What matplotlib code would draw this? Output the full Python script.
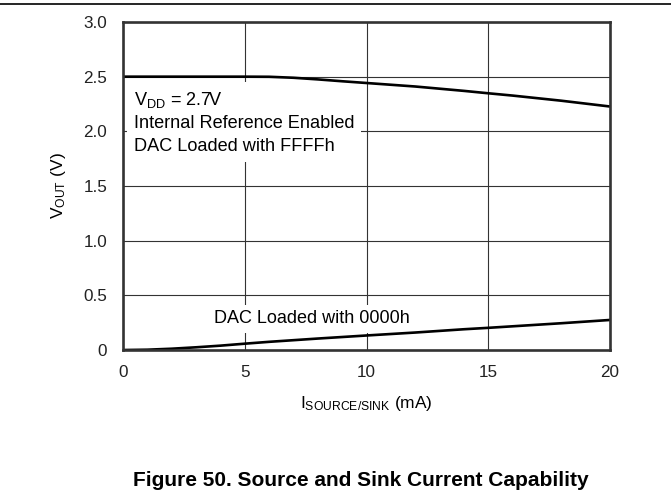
import numpy as np
import matplotlib
matplotlib.use("Agg")
import matplotlib.pyplot as plt
from matplotlib.lines import Line2D

plt.rcParams['font.family'] = ['Liberation Sans', 'DejaVu Sans']
plt.rcParams['mathtext.fontset'] = 'custom'
plt.rcParams['mathtext.rm'] = 'Liberation Sans'
plt.rcParams['mathtext.default'] = 'regular'

# current (mA) and output voltage (V)
i_ma = [0, 1, 2, 3, 4, 5, 6, 7, 8, 9, 10, 12, 14, 15, 16, 18, 20]
v_ffff = [2.50, 2.50, 2.50, 2.50, 2.50, 2.50, 2.499, 2.49, 2.475, 2.458, 2.442,
          2.41, 2.37, 2.348, 2.327, 2.28, 2.227]
v_0000 = [0.0, 0.003, 0.012, 0.025, 0.04, 0.058, 0.075, 0.09, 0.105, 0.119, 0.133,
          0.16, 0.19, 0.203, 0.217, 0.245, 0.275]

x_ticks = [0, 5, 10, 15, 20]
y_ticks = [0, 0.5, 1.0, 1.5, 2.0, 2.5, 3.0]
y_ticklabels = ['0', '0.5', '1.0', '1.5', '2.0', '2.5', '3.0']

fig = plt.figure(figsize=(6.71, 4.93), dpi=100)
ax = fig.add_axes([0.1833, 0.290, 0.7258, 0.6654])

ax.plot(i_ma, v_ffff, color='black', lw=1.9, zorder=4, solid_capstyle='butt')
ax.plot(i_ma, v_0000, color='black', lw=1.9, zorder=4, solid_capstyle='butt')

ax.set_xlim(0, 20)
ax.set_ylim(0, 3.0)
ax.set_xticks(x_ticks)
ax.set_yticks(y_ticks)
ax.set_yticklabels(y_ticklabels)
ax.tick_params(length=0, labelsize=12.3, colors='#222222')
ax.tick_params(axis='y', pad=11.5)
ax.tick_params(axis='x', pad=10.5)
ax.grid(True, color='#333333', lw=0.8)
ax.set_axisbelow(True)
for s in ax.spines.values():
    s.set_linewidth(1.9)
    s.set_color('#333333')
    s.set_zorder(5)

ax.set_xlabel('I$_{SOURCE/SINK}$ (mA)', fontsize=12.5, labelpad=10)
ax.set_ylabel('V$_{OUT}$ (V)', fontsize=12.5, labelpad=11)

ax.text(0.45, 2.38, 'V$_{DD}$ = 2.7V\nInternal Reference Enabled\nDAC Loaded with FFFFh',
        fontsize=13.1, va='top', ha='left', linespacing=1.42, zorder=3,
        bbox=dict(facecolor='white', edgecolor='none', pad=5))
ax.text(7.75, 0.285, 'DAC Loaded with 0000h', fontsize=13, va='center', ha='center',
        zorder=3, bbox=dict(facecolor='white', edgecolor='none', pad=4))

fig.add_artist(Line2D([0, 1], [0.992, 0.992], transform=fig.transFigure,
                      color='black', lw=1.2))
fig.text(0.538, 0.026, 'Figure 50. Source and Sink Current Capability',
         fontsize=15, fontweight='bold', ha='center', va='center')

fig.savefig('out.png', dpi=100)
